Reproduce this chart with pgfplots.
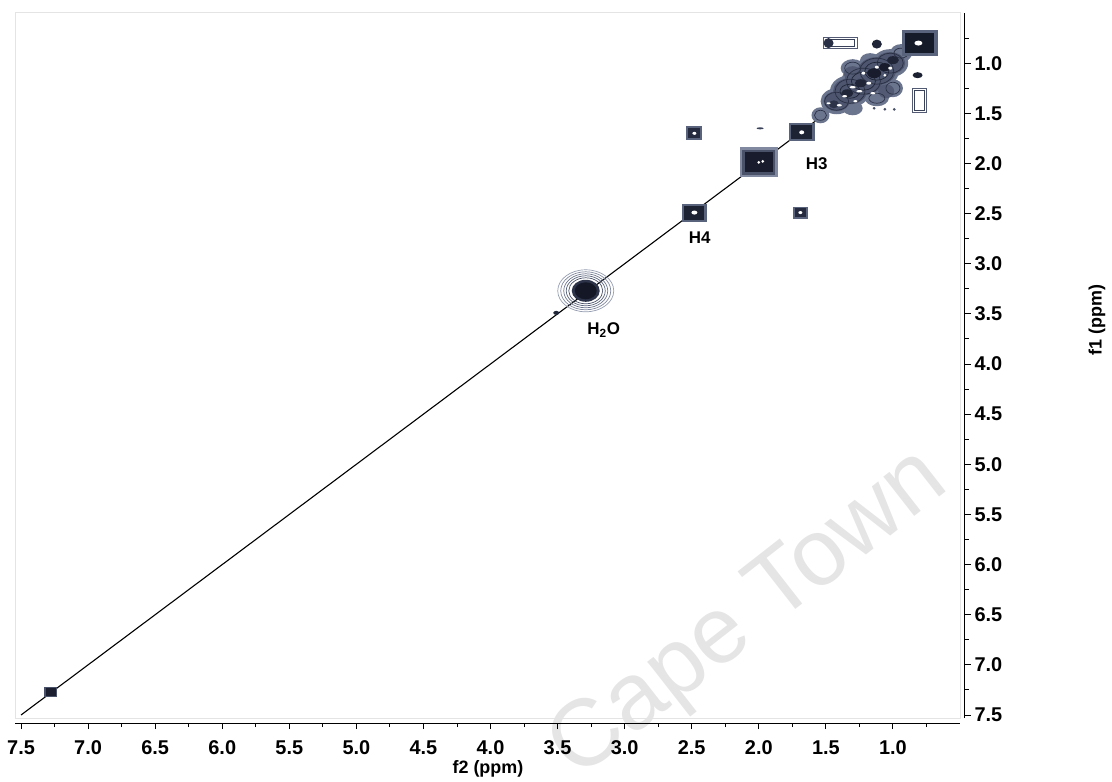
\documentclass[border=0pt]{standalone}
\usepackage{fontspec}
\setmainfont{Liberation Sans}
\usepackage{pgfplots}
\pgfplotsset{compat=1.18}
\usepackage{pgfplotstable}

\definecolor{wm}{RGB}{229,229,229}
\definecolor{framec}{RGB}{228,228,228}

\pgfdeclareplotmark{ellS}{\pgfpathellipse{\pgfpointorigin}{\pgfqpoint{\Rx bp}{0pt}}{\pgfqpoint{0pt}{\Ry bp}}\pgfusepathqstroke}
\pgfdeclareplotmark{ellF}{\pgfpathellipse{\pgfpointorigin}{\pgfqpoint{\Rx bp}{0pt}}{\pgfqpoint{0pt}{\Ry bp}}\pgfusepathqfill}
\pgfdeclareplotmark{rrS}{\pgfsetcornersarced{\pgfqpoint{\Rc bp}{\Rc bp}}\pgfpathrectanglecorners{\pgfqpoint{-\Rx bp}{-\Ry bp}}{\pgfqpoint{\Rx bp}{\Ry bp}}\pgfusepathqstroke}
\pgfdeclareplotmark{rrF}{\pgfsetcornersarced{\pgfqpoint{\Rc bp}{\Rc bp}}\pgfpathrectanglecorners{\pgfqpoint{-\Rx bp}{-\Ry bp}}{\pgfqpoint{\Rx bp}{\Ry bp}}\pgfusepathqfill}

% columns: centre (ppm), half sizes (bp), corner radius (bp), contour level
\pgfplotstableread{
x y rx ry rc c
1.54 1.52 9 8 0 0.30
1.42 1.38 16 13 0 0.30
1.32 1.28 20 16 0 0.30
1.22 1.18 22 17 0 0.30
1.12 1.08 22 17 0 0.30
1.02 1.00 18 14 0 0.30
0.94 0.90 11 9 0 0.30
1.30 1.05 12 9 0 0.30
1.17 0.97 10 7 0 0.30
1.00 1.25 10 9 0 0.30
1.12 1.35 12 8 0 0.30
1.30 1.45 10 7 0 0.30
1.42 1.38 13 10 0 0.48
1.32 1.28 17 13 0 0.48
1.22 1.18 19 14 0 0.48
1.12 1.08 19 14 0 0.48
1.02 1.00 15 11 0 0.48
1.30 1.10 9 7 0 0.45
1.05 1.28 8 7 0 0.45
}\tabBase

\pgfplotstableread{
x y rx ry rc c
3.29 3.27 28 21 0 0.10
3.29 3.27 25 19 0 0.20
3.29 3.27 22 17 0 0.30
3.29 3.27 19.5 15 0 0.40
3.29 3.27 17 13 0 0.50
1.42 1.38 12 9 0 0.75
1.32 1.28 15 12 0 0.75
1.22 1.18 17 13 0 0.75
1.12 1.08 17 13 0 0.75
1.02 1.00 13 10 0 0.75
1.30 1.05 8 6 0 0.70
1.00 1.25 7 6 0 0.70
1.12 1.35 8 5 0 0.70
1.32 1.28 10 7 0 0.85
1.22 1.18 12 9 0 0.85
1.12 1.08 12 9 0 0.85
0.94 0.90 7 5 0 0.75
1.54 1.52 6 5 0 0.70
}\tabEllS

\pgfplotstableread{
x y rx ry rc c
3.29 3.27 14 11 0 0.70
3.29 3.27 11 8.5 0 1.00
3.51 3.49 3 2 0 0.85
1.12 0.81 5 4.5 0 0.85
1.48 0.80 5 5 0 0.75
0.816 1.12 5 3 0 0.90
1.99 1.65 3.5 1 0 0.60
1.14 1.45 1.5 1.5 0 0.50
1.06 1.46 1.5 1.5 0 0.50
0.99 1.46 1.5 1.5 0 0.50
1.14 1.10 7 5 0 0.95
1.06 1.04 6 4 0 0.95
1.24 1.20 6 4 0 0.85
1.34 1.30 6 4 0 0.85
1.00 0.97 6 4 0 0.85
1.44 1.41 5 4 0 0.70
}\tabEllF

\pgfplotstableread{
x y rx ry rc c
1.39 0.80 17 5.5 2 0.45
1.39 0.80 14 3.5 1.5 0.60
0.80 1.37 7 12 2 0.45
0.80 1.37 5 10 1.5 0.60
}\tabRrS

\pgfplotstableread{
x y rx ry rc c
2.00 1.99 19 15 6 0.20
2.00 1.99 16.5 12.5 5 0.50
2.48 2.49 12.5 9 4 0.40
1.68 1.69 13 9 4 0.40
2.48 1.70 8 7 3 0.40
1.69 2.49 7.5 6 3 0.40
0.80 0.80 18 13 6 0.40
7.28 7.27 6.5 5 2 0.50
2.00 1.99 14 10 4 0.95
2.48 2.49 10 7 3 0.88
1.68 1.69 10.5 7 3 0.88
2.48 1.70 6 5 2 0.80
1.69 2.49 5.5 4.5 2 0.80
0.80 0.80 14.5 10 4 0.97
7.28 7.27 5 4 1.5 0.92
}\tabRrF

\pgfplotstableread{
x y rx ry rc c
0.81 0.80 4 2.5 0 0
2.48 2.49 3 2 0 0
1.68 1.69 2.5 2 0 0
2.48 1.70 2 1.5 0 0
1.69 2.49 2 1.5 0 0
2.00 1.99 1.5 1.5 0 0
1.97 1.98 1.5 1.5 0 0
1.12 1.04 2 1.5 0 0
1.25 1.28 3 1.2 0 0
1.36 1.33 2.5 1.2 0 0
1.06 1.12 1.5 1.5 0 0
1.30 1.24 3 1.2 0 0
1.18 1.20 2.5 1.5 0 0
1.22 1.10 2 1.5 0 0
1.40 1.42 2.5 1.2 0 0
1.48 1.40 2 1 0 0
1.02 1.05 2 1.5 0 0
1.28 1.38 2 1.2 0 0
1.15 1.30 2.5 1.2 0 0
}\tabWhite

\pgfplotsset{
  peak/.style={scatter, only marks, scatter src=explicit,
    visualization depends on={\thisrow{rx}\as\Rx},
    visualization depends on={\thisrow{ry}\as\Ry},
    visualization depends on={\thisrow{rc}\as\Rc},
    scatter/use mapped color={draw=mapped color, fill=mapped color},
    line width=0.9bp},
}

\begin{document}
\begin{tikzpicture}
% watermark and faint frame, behind the axis (axis lower-left corner is at the origin)
\node[rotate=38, text=wm, font=\fontsize{95}{95}\selectfont] at (735bp,102bp) {Cape Town};
\draw[framec, line width=1bp] (0,0) rectangle (945bp,705bp);
\begin{axis}[name=ax,
  scale only axis, width=945bp, height=705bp,
  x dir=reverse, y dir=reverse,
  xmin=0.5, xmax=7.545, ymin=0.5, ymax=7.53,
  axis x line*=bottom, axis y line*=right,
  axis x line shift=5bp, axis y line shift=5bp,
  axis line style={black, line width=1bp},
  xtick={1,1.5,...,7.5}, ytick={1,1.5,...,7.5},
  minor xtick={0.75,1.25,...,7.25}, minor ytick={0.75,1.25,...,7.25},
  tick align=outside, major tick length=6bp, minor tick length=4bp,
  every tick/.style={black, line width=0.9bp},
  ticklabel style={font=\fontsize{20}{20}\selectfont\bfseries},
  xticklabel style={yshift=-8bp},
  /pgf/number format/.cd, fixed, fixed zerofill, precision=1, assume math mode=true,
  /pgfplots/.cd,
  colormap={pk}{rgb255=(170,177,195) rgb255=(100,110,135) rgb255=(48,55,78) rgb255=(20,24,38)},
  point meta min=0, point meta max=1,
  clip=false,
]
\addplot[peak, mark=ellF] table[x=x, y=y, meta=c] {\tabBase};
\addplot[peak, mark=ellS, line width=0.7bp] table[x=x, y=y, meta=c] {\tabEllS};
\addplot[peak, mark=rrS] table[x=x, y=y, meta=c] {\tabRrS};
\addplot[peak, mark=ellF] table[x=x, y=y, meta=c] {\tabEllF};
\addplot[peak, mark=rrF] table[x=x, y=y, meta=c] {\tabRrF};
\addplot[peak, mark=ellF, scatter/use mapped color={draw=white, fill=white}] table[x=x, y=y, meta=c] {\tabWhite};

\addplot[black, line width=1.1bp] coordinates {(7.5,7.5) (0.8,0.8)};

\node[font=\fontsize{17}{17}\selectfont\bfseries] at (axis cs:1.569,2.0) {H3};
\node[font=\fontsize{17}{17}\selectfont\bfseries] at (axis cs:2.44,2.745) {H4};
\node[font=\fontsize{17}{17}\selectfont\bfseries] at (axis cs:3.156,3.66) {H\textsubscript{2}O};

\node[font=\fontsize{18}{18}\selectfont\bfseries] at (axis description cs:0.5005,-0.0723) {f2 (ppm)};
\node[font=\fontsize{18}{18}\selectfont\bfseries, rotate=90] at (axis description cs:1.145,0.5645) {f1 (ppm)};
\end{axis}
\pgfresetboundingbox
\path[use as bounding box] ([xshift=-15bp,yshift=-64bp]ax.south west) rectangle ([xshift=152bp,yshift=13bp]ax.north east);
\end{tikzpicture}
\end{document}
